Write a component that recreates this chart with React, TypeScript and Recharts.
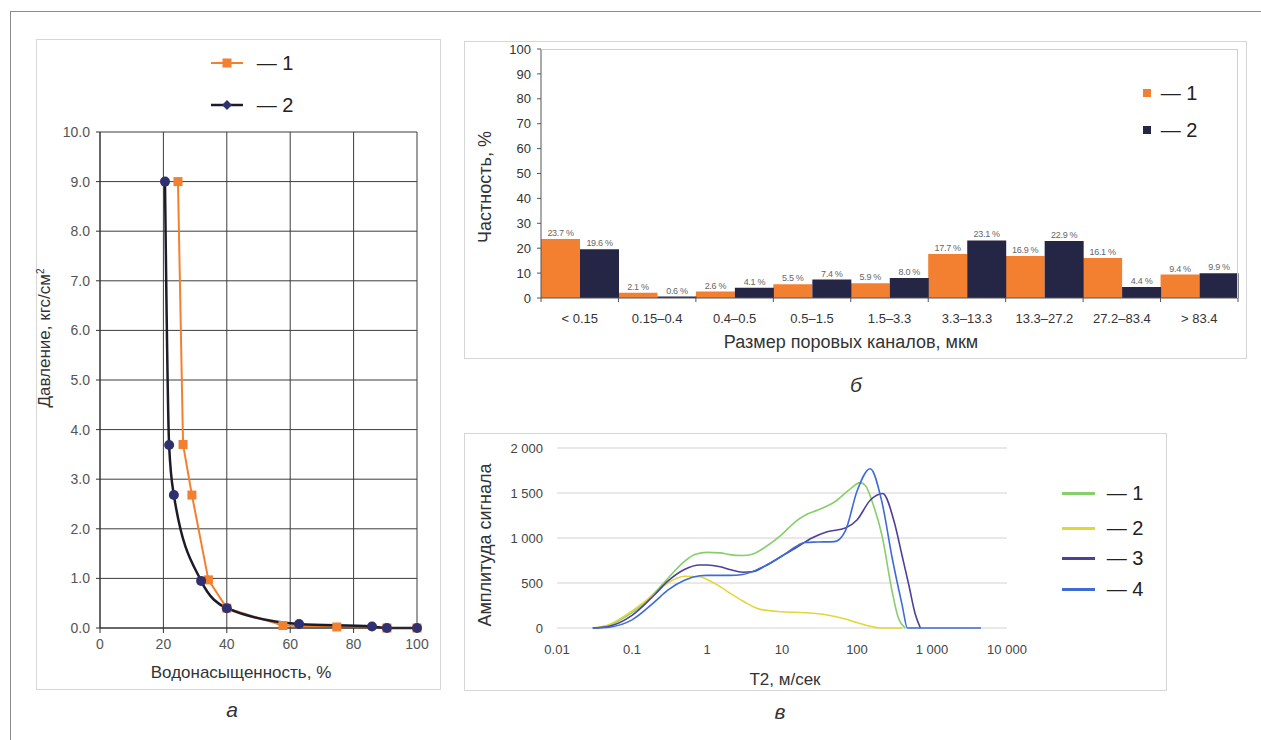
import React from 'react';
import {
  LineChart,
  Line,
  BarChart,
  Bar,
  XAxis,
  YAxis,
  CartesianGrid,
  LabelList,
} from 'recharts';

const FONT = "'Liberation Sans', Arial, sans-serif";

// а — water saturation vs capillary pressure
const satA1 = [24.6, 26.2, 29.0, 34.2, 40.0, 57.7, 74.7, 90.5, 100];
const presA1 = [9.0, 3.7, 2.68, 0.97, 0.4, 0.05, 0.02, 0.0, 0.0];
const satA2 = [20.5, 21.8, 23.3, 31.9, 40.0, 62.8, 85.8, 90.5, 100];
const presA2 = [9.0, 3.69, 2.68, 0.95, 0.4, 0.08, 0.03, 0.0, 0.0];
const xTicksA = [0, 20, 40, 60, 80, 100];
const yTicksA = [0, 1, 2, 3, 4, 5, 6, 7, 8, 9, 10];

// б — pore channel size distribution
const poreBins = ['< 0.15', '0.15–0.4', '0.4–0.5', '0.5–1.5', '1.5–3.3', '3.3–13.3', '13.3–27.2', '27.2–83.4', '> 83.4'];
const freq1 = [23.7, 2.1, 2.6, 5.5, 5.9, 17.7, 16.9, 16.1, 9.4];
const freq2 = [19.6, 0.6, 4.1, 7.4, 8.0, 23.1, 22.9, 4.4, 9.9];
const yTicksB = [0, 10, 20, 30, 40, 50, 60, 70, 80, 90, 100];

// в — T2 spectra
const t2_1 = [0.03, 0.05, 0.07, 0.1, 0.2, 0.3, 0.5, 0.7, 1, 1.5, 2, 3, 4, 6, 10, 15, 20, 30, 50, 80, 110, 130, 160, 215, 295, 350, 440];
const amp1 = [0, 30, 90, 170, 390, 550, 740, 820, 840, 835, 815, 805, 820, 900, 1040, 1180, 1250, 1310, 1400, 1540, 1615, 1580, 1400, 1030, 400, 130, 0];
const t2_2 = [0.03, 0.05, 0.1, 0.2, 0.3, 0.5, 0.8, 1, 1.5, 2, 3, 5, 10, 20, 40, 70, 100, 150, 200, 400];
const amp2 = [0, 40, 190, 380, 500, 575, 570, 540, 460, 390, 300, 210, 180, 170, 145, 100, 60, 20, 0, 0];
const t2_3 = [0.03, 0.05, 0.1, 0.2, 0.3, 0.5, 0.8, 1, 1.5, 2, 3, 4, 6, 10, 15, 25, 40, 70, 100, 150, 220, 320, 400, 490, 600, 700];
const amp3 = [0, 20, 140, 370, 520, 650, 700, 700, 680, 650, 620, 625, 690, 800, 885, 1000, 1070, 1110, 1200, 1420, 1495, 1150, 800, 480, 150, 0];
const t2_4 = [0.03, 0.05, 0.1, 0.2, 0.3, 0.5, 0.8, 1, 2, 3, 5, 10, 15, 20, 30, 50, 70, 100, 150, 215, 295, 400, 470, 1000, 4500];
const amp4 = [0, 10, 90, 290, 420, 530, 580, 585, 585, 595, 660, 800, 900, 950, 955, 960, 1080, 1520, 1770, 1400, 775, 255, 0, 0, 0];
const xTicksC = [0.01, 0.1, 1, 10, 100, 1000, 10000];
const yTicksC = [0, 500, 1000, 1500, 2000];

const ORANGE = '#F28030';
const NAVY = '#252545';
const C_COLORS = ['#86CF6A', '#E2D63A', '#4E3F9A', '#3E6CD4'];

const pts = (xs: number[], ys: number[]) => xs.map((x, i) => ({ x, y: ys[i] }));
const seriesA1 = pts(satA1, presA1);
const seriesA2 = pts(satA2, presA2);
const seriesC = [pts(t2_1, amp1), pts(t2_2, amp2), pts(t2_3, amp3), pts(t2_4, amp4)];
const barData = poreBins.map((bin, i) => ({ bin, f1: freq1[i], f2: freq2[i] }));

const spaced = (v: number) =>
  v >= 1000 ? String(v).replace(/\B(?=(\d{3})+(?!\d))/g, ' ') : String(v);

function SquareDot(props: any) {
  const { cx, cy, index } = props;
  if (cx == null || cy == null) return null;
  return <rect key={`s${index}`} x={cx - 4.5} y={cy - 4.5} width={9} height={9} fill={ORANGE} />;
}

function RoundDot(props: any) {
  const { cx, cy, index } = props;
  if (cx == null || cy == null) return null;
  return <circle key={`c${index}`} cx={cx} cy={cy} r={5} fill="#303070" />;
}

function BinTick(props: any) {
  const { x, y, payload, index, visibleTicksCount, width } = props;
  const half = payload.offset || width / visibleTicksCount / 2;
  const last = index === visibleTicksCount - 1;
  return (
    <g>
      <line x1={x - half} y1={y} x2={x - half} y2={y + 4} stroke="#555" />
      {last && <line x1={x + half} y1={y} x2={x + half} y2={y + 4} stroke="#555" />}
      <text x={x} y={y + 20} dy="0.35em" textAnchor="middle" fontSize={13} fill="#333" fontFamily={FONT}>
        {payload.value}
      </text>
    </g>
  );
}

// value label over a bar, kept on one line
function BarValue(props: any) {
  const { x, y, width, value } = props;
  return (
    <text
      x={Number(x) + Number(width) / 2}
      y={Number(y) - 3}
      textAnchor="middle"
      fontSize={9}
      letterSpacing={-0.3}
      fill="#666"
      fontFamily={FONT}
    >
      {`${Number(value).toFixed(1)} %`}
    </text>
  );
}

const abs = (left: number, top: number, extra: React.CSSProperties = {}): React.CSSProperties => ({
  position: 'absolute',
  left,
  top,
  ...extra,
});

const centered = (x: number, y: number, size: number, extra: React.CSSProperties = {}): React.CSSProperties => ({
  position: 'absolute',
  left: x,
  top: y,
  transform: 'translate(-50%, -50%)',
  whiteSpace: 'nowrap',
  fontSize: size,
  color: '#333',
  ...extra,
});

const rotated = (x: number, y: number, size: number): React.CSSProperties => ({
  ...centered(x, y, size),
  transform: 'translate(-50%, -50%) rotate(-90deg)',
});

const frame = (left: number, top: number, width: number, height: number): React.CSSProperties => ({
  position: 'absolute',
  left,
  top,
  width,
  height,
  boxSizing: 'border-box',
  border: '1px solid #d6d6d6',
});

function PressureChart() {
  const tick = { fill: '#555', fontSize: 14, fontFamily: FONT };
  return (
    <LineChart width={405} height={651} margin={{ top: 93, right: 24, left: 0, bottom: 0 }}>
      <CartesianGrid stroke="#3c3c3c" />
      <XAxis
        type="number"
        dataKey="x"
        domain={[0, 100]}
        ticks={xTicksA}
        height={62}
        tickSize={5}
        tickMargin={6}
        stroke="#333"
        tick={tick}
      />
      <YAxis
        type="number"
        domain={[0, 10]}
        ticks={yTicksA}
        width={64}
        tickSize={4}
        tickMargin={6}
        stroke="#333"
        tick={tick}
        tickFormatter={(v: number) => v.toFixed(1)}
      />
      <Line
        data={seriesA1}
        dataKey="y"
        type="linear"
        stroke={ORANGE}
        strokeWidth={2}
        dot={SquareDot}
        isAnimationActive={false}
      />
      <Line
        data={seriesA2}
        dataKey="y"
        type="monotone"
        stroke="#1c1c28"
        strokeWidth={2.5}
        dot={RoundDot}
        isAnimationActive={false}
      />
    </LineChart>
  );
}

function PoreChart() {
  return (
    <BarChart
      width={783}
      height={318}
      data={barData}
      margin={{ top: 8, right: 9, left: 0, bottom: 0 }}
      barCategoryGap={0}
      barGap={0}
    >
      <XAxis
        dataKey="bin"
        height={61}
        interval={0}
        tickLine={false}
        tickSize={0}
        tickMargin={0}
        stroke="#555"
        tick={<BinTick />}
      />
      <YAxis
        type="number"
        domain={[0, 100]}
        ticks={yTicksB}
        width={77}
        tickSize={4}
        tickMargin={6}
        stroke="#555"
        tick={{ fill: '#333', fontSize: 13, fontFamily: FONT }}
      />
      <Bar dataKey="f1" fill={ORANGE} isAnimationActive={false}>
        <LabelList dataKey="f1" content={BarValue} />
      </Bar>
      <Bar dataKey="f2" fill={NAVY} isAnimationActive={false}>
        <LabelList dataKey="f2" content={BarValue} />
      </Bar>
    </BarChart>
  );
}

function SpectraChart() {
  const tick = { fill: '#444', fontSize: 13, fontFamily: FONT };
  return (
    <LineChart width={703} height={258} margin={{ top: 15, right: 160, left: 0, bottom: 0 }}>
      <CartesianGrid vertical={false} stroke="#d2d2d2" />
      <XAxis
        type="number"
        dataKey="x"
        scale="log"
        domain={[0.01, 10000]}
        ticks={xTicksC}
        allowDataOverflow
        height={63}
        axisLine={false}
        tickLine={false}
        tickSize={0}
        tickMargin={17}
        tick={tick}
        tickFormatter={(v: number) => spaced(v)}
      />
      <YAxis
        type="number"
        domain={[0, 2000]}
        ticks={yTicksC}
        width={93}
        axisLine={false}
        tickLine={false}
        tickSize={0}
        tickMargin={14}
        tick={tick}
        tickFormatter={(v: number) => spaced(v)}
      />
      {seriesC.map((d, i) => (
        <Line
          key={i}
          data={d}
          dataKey="y"
          type="monotone"
          stroke={C_COLORS[i]}
          strokeWidth={1.6}
          dot={false}
          isAnimationActive={false}
        />
      ))}
    </LineChart>
  );
}

export default function App() {
  return (
    <div
      style={{
        position: 'absolute',
        left: 0,
        top: 0,
        width: 1261,
        height: 740,
        background: '#fff',
        fontFamily: FONT,
        overflow: 'hidden',
      }}
    >
      {/* outer page frame */}
      <div style={abs(10, 11, { width: 1260, height: 740, borderTop: '1px solid #8a8a8a', borderLeft: '1px solid #8a8a8a' })} />

      {/* а */}
      <div style={frame(36, 39, 405, 651)} />
      <div style={abs(36, 39)}>
        <PressureChart />
      </div>
      <svg style={abs(209, 55)} width={36} height={16}>
        <line x1={2} y1={8} x2={34} y2={8} stroke={ORANGE} strokeWidth={2} />
        <rect x={13.5} y={3.5} width={9} height={9} fill={ORANGE} />
      </svg>
      <div style={centered(275, 63, 20, { color: '#222' })}>— 1</div>
      <svg style={abs(209, 97)} width={36} height={16}>
        <line x1={2} y1={8} x2={34} y2={8} stroke="#1c1c28" strokeWidth={2.5} />
        <polygon points="18,3 23,8 18,13 13,8" fill="#303070" />
      </svg>
      <div style={centered(275, 105, 20, { color: '#222' })}>— 2</div>
      <div style={rotated(45, 338, 17)}>
        Давление, кгс/см<sup style={{ fontSize: 10 }}>2</sup>
      </div>
      <div style={centered(241, 673, 17)}>Водонасыщенность, %</div>
      <div style={centered(232, 710, 21, { fontStyle: 'italic' })}>а</div>

      {/* б */}
      <div style={frame(464, 41, 783, 318)} />
      <div style={abs(464, 41)}>
        <PoreChart />
      </div>
      <div style={abs(541, 49, { width: 697, height: 249, boxSizing: 'border-box', borderTop: '1px solid #cfcfcf', borderRight: '1px solid #cfcfcf' })} />
      <div style={abs(1143, 89, { width: 8, height: 8, background: ORANGE })} />
      <div style={centered(1179, 93, 20, { color: '#222' })}>— 1</div>
      <div style={abs(1143, 126, { width: 8, height: 8, background: NAVY })} />
      <div style={centered(1179, 130, 20, { color: '#222' })}>— 2</div>
      <div style={rotated(485, 187, 18)}>Частность, %</div>
      <div style={centered(851, 342, 18)}>Размер поровых каналов, мкм</div>
      <div style={centered(856, 385, 21, { fontStyle: 'italic' })}>б</div>

      {/* в */}
      <div style={frame(464, 433, 703, 258)} />
      <div style={abs(464, 433)}>
        <SpectraChart />
      </div>
      {C_COLORS.map((c, i) => (
        <React.Fragment key={i}>
          <div style={abs(1062, [492, 527, 557, 588][i], { width: 33, height: 2.5, background: c })} />
          <div style={centered(1125, [493, 528, 558, 589][i], 20, { color: '#222' })}>— {i + 1}</div>
        </React.Fragment>
      ))}
      <div style={rotated(485, 545, 18)}>Амплитуда сигнала</div>
      <div style={centered(785, 680, 17)}>T2, м/сек</div>
      <div style={centered(780, 712, 21, { fontStyle: 'italic' })}>в</div>
    </div>
  );
}
